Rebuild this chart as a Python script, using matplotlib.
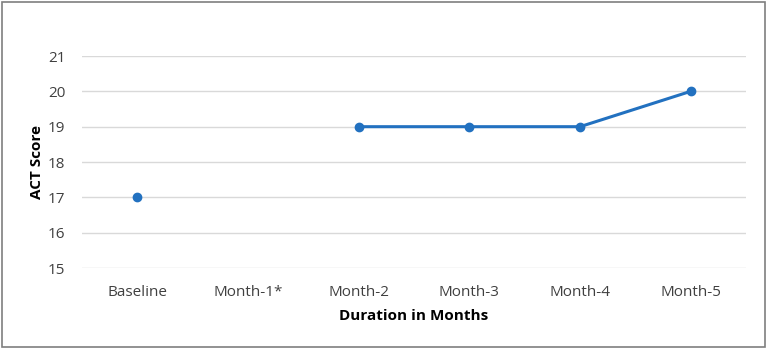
import matplotlib
matplotlib.use("Agg")
import matplotlib.pyplot as plt
import numpy as np
from matplotlib.patches import Rectangle

categories = ["Baseline", "Month-1*", "Month-2", "Month-3", "Month-4", "Month-5"]
act_score = [17, np.nan, 19, 19, 19, 20]

plt.rcParams['font.family'] = ['Open Sans', 'DejaVu Sans']

fig = plt.figure(figsize=(7.67, 3.49), dpi=100)
ax = fig.add_axes([0.107, 0.232, 0.8656, 0.6075])

x = np.arange(len(categories))
ax.plot(x, act_score, color="#2271C0", linewidth=2.2, marker="o", markersize=6)

ax.set_xlim(-0.5, len(categories) - 0.5)
ax.set_ylim(15, 21)
ax.set_yticks(range(15, 22))
ax.set_xticks(x)
ax.set_xticklabels(categories)
ax.grid(axis="y", color="#D9D9D9", linewidth=1)
ax.set_axisbelow(True)
for s in ax.spines.values():
    s.set_visible(False)
ax.tick_params(length=0, labelsize=11, colors="#404040")
ax.tick_params(axis="x", pad=12)
ax.tick_params(axis="y", pad=12)
ax.set_ylabel("ACT Score", fontsize=11, fontweight="bold", color="#000000", labelpad=3)
ax.set_xlabel("Duration in Months", fontsize=11, fontweight="bold", color="#000000", labelpad=7)

fig.patches.append(Rectangle((0.003, 0.006), 0.994, 0.988, transform=fig.transFigure,
                             fill=False, edgecolor="#7F7F7F", linewidth=1.2))

fig.savefig("out.png", dpi=100)
